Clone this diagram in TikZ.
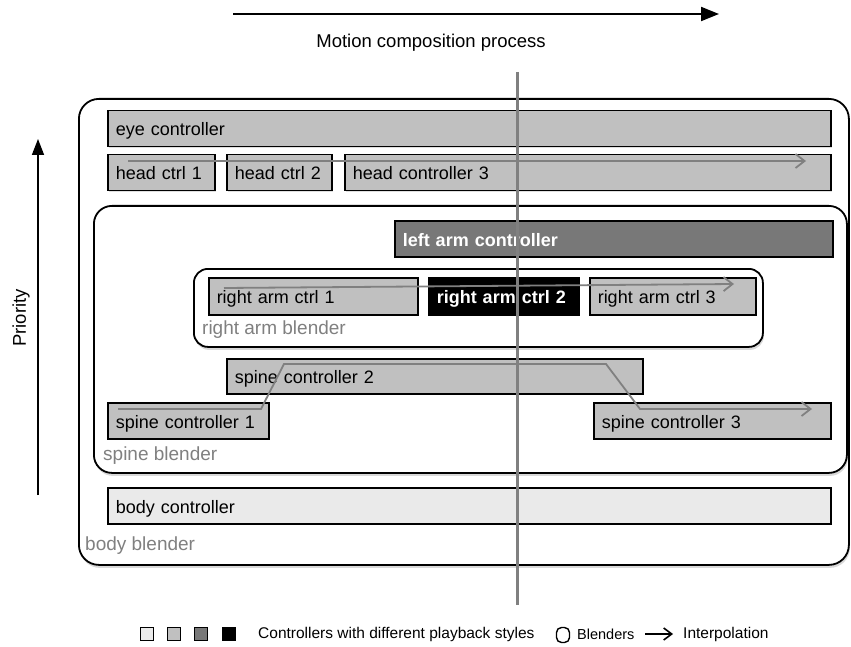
\documentclass[tikz,border=0pt]{standalone}
\usepackage{fontspec}
\setmainfont{Liberation Sans}
\usetikzlibrary{arrows.meta,shadows}
\definecolor{ctrlmid}{RGB}{192,192,192}
\definecolor{ctrllight}{RGB}{234,234,234}
\definecolor{ctrldark}{RGB}{120,120,120}
\definecolor{linegray}{RGB}{128,128,128}
\tikzset{
  ctrlbox/.style={draw=black, line width=1.5pt, fill=ctrlmid, anchor=north west,
    inner xsep=8pt, inner ysep=0pt, align=left, font=\fontsize{18}{21}\selectfont,
    text height=14.5pt, text depth=0pt,
    drop shadow={shadow xshift=1.5pt, shadow yshift=-1.5pt, opacity=0.25}},
  blender/.style={draw=black, line width=1.8pt, fill=white, rounded corners=18pt,
    anchor=north west, inner sep=0pt,
    drop shadow={shadow xshift=1pt, shadow yshift=-3pt, opacity=0.3}},
  blabel/.style={text=linegray, font=\fontsize{19}{22}\selectfont, anchor=west, inner sep=0pt},
  interp/.style={draw=linegray, line width=1.8pt, -{Straight Barb[length=9pt,width=14pt,line width=1.8pt]}},
  sq/.style={draw=black, line width=1.1pt, minimum width=13.5pt, minimum height=13.5pt, inner sep=0pt},
  legtext/.style={font=\fontsize{15.5}{18}\selectfont, anchor=west, inner sep=0pt},
}
\begin{document}
\begin{tikzpicture}[x=1pt,y=-1pt]
\useasboundingbox (0,0) rectangle (851,647);

% top arrow and title
\coordinate (ta0) at (233,14);
\coordinate (ta1) at (719,14);
\draw[line width=2pt, -{Triangle[length=18pt,width=14pt]}] (ta0) -- (ta1);
\node[font=\fontsize{18.5}{22}\selectfont] (title) at (431,43) {Motion composition process};

% priority
\coordinate (pr0) at (38,495);
\coordinate (pr1) at (38,139);
\draw[line width=1.6pt, -{Triangle[length=16pt,width=12pt]}] (pr0) -- (pr1);
\node[rotate=90, font=\fontsize{18.5}{22}\selectfont] (prio) at (21,318) {Priority};

% body blender
\node[blender, minimum width=770pt, minimum height=466pt, rounded corners=20pt] (bodyb) at (78,98) {};
\node[blabel] (bodybl) at (85,546) {body blender};

\node[ctrlbox, text width=707pt, minimum height=36pt] (eye) at (107,110) {eye controller};
\node[ctrlbox, text width=91pt, minimum height=36pt] (head1) at (107,154) {head ctrl 1};
\node[ctrlbox, text width=89pt, minimum height=36pt] (head2) at (226,154) {head ctrl 2};
\node[ctrlbox, text width=470pt, minimum height=36pt] (head3) at (344,154) {head controller 3};

% spine blender
\node[blender, minimum width=753pt, minimum height=267pt] (spineb) at (93,205) {};
\node[blabel] (spinebl) at (103,456) {spine blender};

\node[ctrlbox, fill=ctrldark, text=white, font=\fontsize{18}{21}\selectfont\bfseries, text width=422pt, minimum height=36pt] (larm) at (394,220) {left arm controller};

% right arm blender
\node[blender, minimum width=569pt, minimum height=78pt, rounded corners=14pt] (rab) at (193,268) {};
\node[blabel] (rabl) at (202,330) {right arm blender};

\node[ctrlbox, text width=193pt, minimum height=37pt] (ra1) at (208,277) {right arm ctrl 1};
\node[ctrlbox, fill=black, text=white, font=\fontsize{18}{21}\selectfont\bfseries, text width=134pt, minimum height=37pt] (ra2) at (428,277) {right arm ctrl 2};
\node[ctrlbox, text width=150pt, minimum height=37pt] (ra3) at (589,277) {right arm ctrl 3};

\node[ctrlbox, text width=400pt, minimum height=35pt] (sp2) at (226,358) {spine controller 2};
\node[ctrlbox, text width=145pt, minimum height=36pt] (sp1) at (107,402) {spine controller 1};
\node[ctrlbox, text width=221pt, minimum height=36pt] (sp3) at (593,402) {spine controller 3};

\node[ctrlbox, fill=ctrllight, text width=707pt, minimum height=36pt] (body) at (107,487) {body controller};

% interpolation arrows
\coordinate (h0) at (128,161);
\coordinate (h1) at (806,161);
\draw[interp] (h0) -- (h1);
\coordinate (r0) at (224,288);
\coordinate (r1) at (734,284);
\draw[interp] (r0) -- (r1);
\coordinate (s0) at (118,409);
\coordinate (s1) at (261,409);
\coordinate (s2) at (284,364);
\coordinate (s3) at (606,364);
\coordinate (s4) at (640,409);
\coordinate (s5) at (812,409);
\draw[interp] (s0) -- (s1) -- (s2) -- (s3) -- (s4) -- (s5);

% time line
\coordinate (t0) at (517,72);
\coordinate (t1) at (517,605);
\draw[linegray, line width=3pt] (t0) -- (t1);

% legend
\node[sq, fill=ctrllight] (lg1) at (147,634) {};
\node[sq, fill=ctrlmid] (lg2) at (174,634) {};
\node[sq, fill=ctrldark] (lg3) at (201,634) {};
\node[sq, fill=black] (lg4) at (229,634) {};
\node[legtext] (lgt1) at (258,634) {Controllers with different playback styles};
\node[draw=black, line width=1.4pt, rounded corners=5pt, minimum width=13pt, minimum height=15pt, inner sep=0pt] (lgb) at (563,635) {};
\node[legtext, font=\fontsize{14.5}{17}\selectfont] (lgt2) at (577,634) {Blenders};
\coordinate (la0) at (645,634);
\coordinate (la1) at (673,634);
\draw[line width=1.6pt, -{Straight Barb[length=8pt,width=12pt,line width=1.6pt]}] (la0) -- (la1);
\node[legtext] (lgt3) at (683,634) {Interpolation};
\end{tikzpicture}
\end{document}
